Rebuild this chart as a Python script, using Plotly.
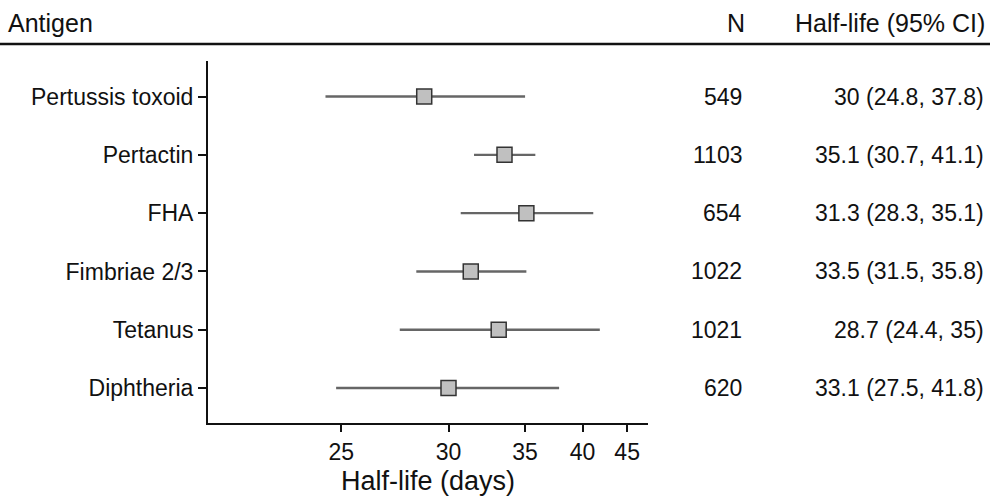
import plotly.graph_objects as go

# Row labels (top to bottom) and table columns as printed
antigens = ["Pertussis toxoid", "Pertactin", "FHA", "Fimbriae 2/3", "Tetanus", "Diphtheria"]
n_values = ["549", "1103", "654", "1022", "1021", "620"]
ci_text = ["30 (24.8, 37.8)", "35.1 (30.7, 41.1)", "31.3 (28.3, 35.1)",
           "33.5 (31.5, 35.8)", "28.7 (24.4, 35)", "33.1 (27.5, 41.8)"]

# Plotted estimates (half-life, days) as drawn on each row, top to bottom
est = [28.7, 33.5, 35.1, 31.3, 33.1, 30.0]
lo = [24.4, 31.5, 30.7, 28.3, 27.5, 24.8]
hi = [35.0, 35.8, 41.1, 35.1, 41.8, 37.8]

tick_values = [25, 30, 35, 40, 45]

FONT = "Liberation Sans, Arial, sans-serif"
rows = list(range(1, len(antigens) + 1))

# reciprocal (decay-rate) scale: x = 1 / half-life, axis reversed
xe = [1.0 / v for v in est]
plus = [1.0 / l - 1.0 / e for l, e in zip(lo, est)]
minus = [1.0 / e - 1.0 / h for e, h in zip(est, hi)]

fig = go.Figure()
fig.add_trace(go.Scatter(
    x=xe, y=rows, mode="markers",
    marker=dict(symbol="square", size=15, color="#c0c0c0",
                line=dict(color="#333333", width=1.5)),
    error_x=dict(type="data", symmetric=False, array=plus, arrayminus=minus,
                 color="#666666", thickness=2.4, width=0),
    showlegend=False, hoverinfo="skip",
))

L, R, T, B = 208, 342, 61, 73
W, H = 990, 496
pw = W - L - R
ph = H - T - B

def px_x(p):
    return (p - L) / pw

def px_y(p):
    return 1 + (T - p) / ph

TXT = 23
annotations = []
for r, n, c in zip(rows, n_values, ci_text):
    annotations.append(dict(x=px_x(744), y=r, xref="paper", yref="y", text=n,
                            xanchor="right", yanchor="middle", showarrow=False,
                            font=dict(family=FONT, size=TXT, color="#111")))
    annotations.append(dict(x=px_x(986), y=r, xref="paper", yref="y", text=c,
                            xanchor="right", yanchor="middle", showarrow=False,
                            font=dict(family=FONT, size=TXT, color="#111")))

hdr_y = px_y(23)
annotations += [
    dict(x=px_x(6), y=hdr_y, xref="paper", yref="paper", text="Antigen",
         xanchor="left", yanchor="middle", showarrow=False,
         font=dict(family=FONT, size=25, color="#111")),
    dict(x=px_x(747), y=hdr_y, xref="paper", yref="paper", text="N",
         xanchor="right", yanchor="middle", showarrow=False,
         font=dict(family=FONT, size=25, color="#111")),
    dict(x=px_x(987), y=hdr_y, xref="paper", yref="paper", text="Half-life (95% CI)",
         xanchor="right", yanchor="middle", showarrow=False,
         font=dict(family=FONT, size=25, color="#111")),
]

shapes = [dict(type="line", xref="paper", yref="paper",
               x0=px_x(0), x1=px_x(990), y0=px_y(44), y1=px_y(44),
               line=dict(color="#111", width=2.5))]

u_left = (984.5 - 208) / 16080.0
u_right = (984.5 - 648) / 16080.0

fig.update_layout(
    width=W, height=H,
    margin=dict(l=L, r=R, t=T, b=B, pad=0, autoexpand=False),
    paper_bgcolor="white", plot_bgcolor="white",
    font=dict(family=FONT, color="#111"),
    xaxis=dict(
        range=[u_left, u_right], automargin=False,
        tickvals=[1.0 / v for v in tick_values],
        ticktext=[str(v) for v in tick_values],
        showline=True, linecolor="#111", linewidth=2,
        ticks="outside", ticklen=7, tickwidth=1.5, tickcolor="#111",
        showgrid=False, zeroline=False,
        tickfont=dict(family=FONT, size=TXT, color="#111"),
        title=dict(text="Half-life (days)", standoff=9,
                   font=dict(family=FONT, size=27, color="#111")),
    ),
    yaxis=dict(
        range=[6.6, 0.39], automargin=False,
        tickvals=rows, ticktext=antigens,
        showline=True, linecolor="#111", linewidth=2,
        ticks="outside", ticklen=8, tickwidth=1.5, tickcolor="#111",
        showgrid=False, zeroline=False,
        tickfont=dict(family=FONT, size=TXT, color="#111"),
    ),
    annotations=annotations,
    shapes=shapes,
)

fig.write_html("out.html")
